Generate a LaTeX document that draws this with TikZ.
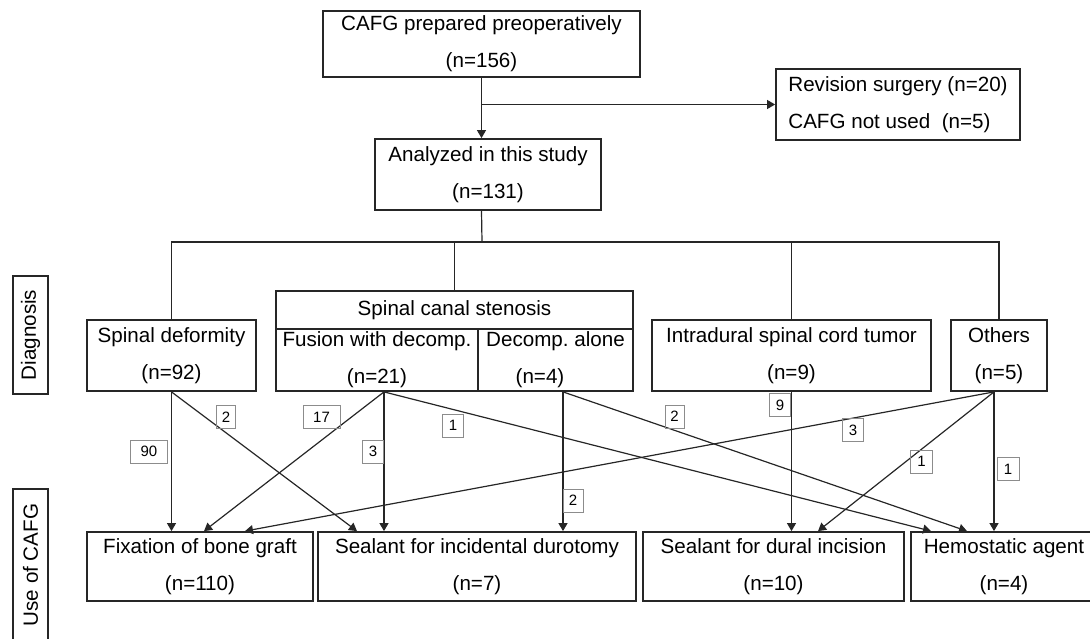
\documentclass[tikz,border=0pt]{standalone}
\usepackage{fontspec}
\setmainfont{Liberation Sans}
\usetikzlibrary{arrows.meta,calc}

\tikzset{
	box/.style={draw=black!85,line width=1.8pt,inner sep=0pt,align=center,
		font=\fontsize{20.6}{37}\selectfont},
	cnt/.style={draw=black!45,line width=1pt,inner sep=0pt,minimum width=#1,
		minimum height=23pt,font=\fontsize{15}{15}\selectfont},
	cnt/.default=21pt,
	flow/.style={draw=black!85,line width=1.2pt,-{Triangle[length=8pt,width=9pt]}},
	tree/.style={draw=black!85,line width=1.2pt},
}

\begin{document}
\begin{tikzpicture}[x=1pt,y=-1pt]
	\useasboundingbox (0,0) rectangle (1090,639);
	% flow at the top
	\node[box,minimum width=317pt,minimum height=66pt] (top) at (481.5,44)
		{CAFG prepared preoperatively\\(n=156)};
	\node[box,minimum width=244pt,minimum height=71pt,align=left] (rev) at (898,104.5)
		{Revision surgery (n=20)\\CAFG not used\ \ (n=5)};
	\node[box,minimum width=226pt,minimum height=71pt] (ana) at (488,174.5)
		{Analyzed in this study\\(n=131)};
	\draw[flow] (top.south) -- (top.south |- ana.north);
	\draw[flow] (top.south |- rev.west) -- (rev.west);
	% diagnosis row
	\node[box,minimum width=169pt,minimum height=71pt] (sd) at (171.5,355.5)
		{Spinal deformity\\(n=92)};
	\node[box,minimum width=357pt,minimum height=38pt] (scs) at (454.5,310)
		{Spinal canal stenosis};
	\node[box,minimum width=202pt,minimum height=62pt] (fus) at (377,360)
		{Fusion with decomp.\\(n=21)};
	\node[box,minimum width=155pt,minimum height=62pt] (dec) at (555.5,360)
		{Decomp.\ alone\\(n=4)\hspace*{31pt}};
	\node[box,minimum width=279pt,minimum height=71pt] (itu) at (791.5,355.5)
		{Intradural spinal cord tumor\\(n=9)};
	\node[box,minimum width=96pt,minimum height=71pt] (oth) at (999,355.5)
		{Others\\(n=5)};
	\coordinate (bus) at (482,242);
	\draw[tree] (ana.south -| top.south) -- (bus);
	\draw[tree] (sd.north) |- (bus) -| (oth.north);
	\draw[tree] (scs.north) -- (scs.north |- bus);
	\draw[tree] (itu.north) -- (itu.north |- bus);
	% use of CAFG row
	\node[box,minimum width=226pt,minimum height=69pt] (fix) at (200,566.5)
		{Fixation of bone graft\\(n=110)};
	\node[box,minimum width=318pt,minimum height=69pt] (sid) at (477,566.5)
		{Sealant for incidental durotomy\\(n=7)};
	\node[box,minimum width=261pt,minimum height=69pt] (sdu) at (773.5,566.5)
		{Sealant for dural incision\\(n=10)};
	\node[box,minimum width=186pt,minimum height=69pt] (hem) at (1004,566.5)
		{Hemostatic agent\\(n=4)};
	% side labels
	\node[box,rotate=90,minimum width=118pt,minimum height=35pt] (dia) at (30.5,335) {Diagnosis};
	\node[box,rotate=90,minimum width=152pt,minimum height=35pt] (use) at (30.5,565) {Use of CAFG};
	% connectors
	\coordinate (fusOut) at ($(fus.south)+(7,0)$);
	\coordinate (decOut) at ($(dec.south)+(7.5,0)$);
	\coordinate (othOut) at ($(oth.south)+(-5,0)$);
	\draw[flow] (sd.south) -- (sd.south |- fix.north);
	\draw[flow] (sd.south) -- ($(sid.north)+(-120,0)$);
	\draw[flow] (fusOut) -- ($(fix.north)+(4,0)$);
	\draw[flow] (fusOut) -- (fusOut |- sid.north);
	\draw[flow] (fusOut) -- ($(hem.north)+(-73,0)$);
	\draw[flow] (decOut) -- (decOut |- sid.north);
	\draw[flow] (decOut) -- ($(hem.north)+(-37,0)$);
	\draw[flow] (itu.south) -- (itu.south |- sdu.north);
	\draw[flow] (othOut) -- ($(fix.north)+(45,0)$);
	\draw[flow] (othOut) -- ($(sdu.north)+(44.5,0)$);
	\draw[flow] (othOut) -- (othOut |- hem.north);
	% counts
	\foreach \nm/\v/\x/\y/\w in {a/90/149/451.5/37pt, b/2/226/417/19pt, c/17/321.5/417/37pt,
		d/3/373/451.5/21pt, e/1/453/425.5/21pt, f/2/573/500.5/20pt, g/2/674.5/416.5/19pt,
		h/9/780/405/21pt, i/3/853/430/21pt, j/1/921.5/461.5/22pt, k/1/1008/469/22pt}{
		\node[cnt=\w] (n\nm) at (\x,\y) {\v};
	}
\end{tikzpicture}
\end{document}
